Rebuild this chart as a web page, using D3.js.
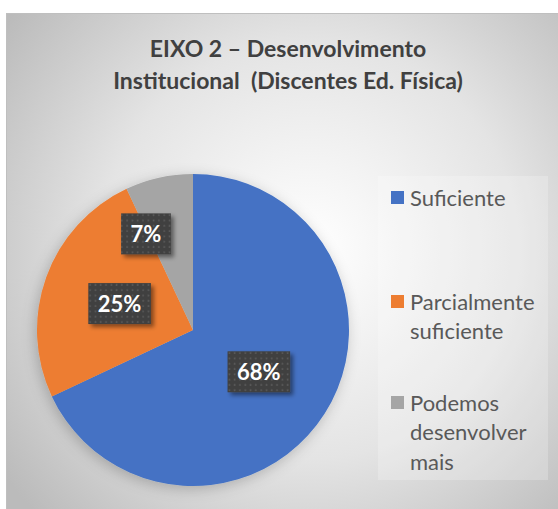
<!DOCTYPE html>
<meta charset="utf-8">
<style>
    body { margin: 0; background: #fff; }
    svg { display: block; }
    text { font-family: Lato, "Open Sans", sans-serif; white-space: pre; }
</style>
<body>
<script src="https://cdn.jsdelivr.net/npm/d3@7"></script>
<script>
// data
var categories = ["Suficiente", "Parcialmente suficiente", "Podemos desenvolver mais"];
var legendLines = [["Suficiente"], ["Parcialmente", "suficiente"], ["Podemos", "desenvolver", "mais"]];
var percents = [68, 25, 7];
var colors = ["#4472c4", "#ed7d31", "#a5a5a5"];
var titleLines = ["EIXO 2 \u2013 Desenvolvimento", "Institucional  (Discentes Ed. F\u00edsica)"];

var width = 558, height = 509;

var svg = d3.select("body").append("svg")
    .attr("width", width)
    .attr("height", height);

var defs = svg.append("defs");

// background gradient of the chart area
var bg = defs.append("radialGradient")
    .attr("id", "bg")
    .attr("gradientUnits", "userSpaceOnUse")
    .attr("cx", 310).attr("cy", 250).attr("r", 380);
bg.append("stop").attr("offset", "0%").attr("stop-color", "#ffffff");
bg.append("stop").attr("offset", "55%").attr("stop-color", "#e4e4e4");
bg.append("stop").attr("offset", "100%").attr("stop-color", "#bbbbbb");

// dotted fill of the data labels
var pat = defs.append("pattern")
    .attr("id", "dots")
    .attr("patternUnits", "userSpaceOnUse")
    .attr("width", 5.3).attr("height", 5.3);
pat.append("rect").attr("width", 5.3).attr("height", 5.3).attr("fill", "#3f3f3f");
pat.append("rect").attr("x", 1.5).attr("y", 1.5).attr("width", 1.6).attr("height", 2).attr("fill", "#5a5a5a");

// soft shadow round the pie
var pieShadow = defs.append("filter").attr("id", "pieShadow")
    .attr("x", "-20%").attr("y", "-20%").attr("width", "140%").attr("height", "140%");
pieShadow.append("feDropShadow")
    .attr("dx", -2).attr("dy", 3).attr("stdDeviation", 7)
    .attr("flood-color", "#000").attr("flood-opacity", 0.22);

var boxShadow = defs.append("filter").attr("id", "boxShadow")
    .attr("x", "-30%").attr("y", "-30%").attr("width", "160%").attr("height", "160%");
boxShadow.append("feDropShadow")
    .attr("dx", 3).attr("dy", 3).attr("stdDeviation", 2)
    .attr("flood-color", "#000").attr("flood-opacity", 0.45);

// chart area
svg.append("rect")
    .attr("x", 6.5).attr("y", 13.5)
    .attr("width", width).attr("height", height)
    .attr("fill", "url(#bg)")
    .attr("stroke", "#bfbfbf");

// title
var title = svg.append("text")
    .attr("text-anchor", "middle")
    .attr("font-weight", "bold")
    .attr("font-size", 23)
    .attr("fill", "#404040");
title.selectAll("tspan")
    .data(titleLines)
    .join("tspan")
    .attr("x", 288)
    .attr("y", function(d, i) { return 57 + i * 32; })
    .text(function(d) { return d; });

// pie
var cx = 193, cy = 330, radius = 156;
var pie = d3.pie().sort(null).value(function(d) { return d; });
var arcs = pie(percents);
var arc = d3.arc().innerRadius(0).outerRadius(radius);
var labelArc = d3.arc().innerRadius(radius * 0.5).outerRadius(radius * 0.5);

var g = svg.append("g").attr("transform", "translate(" + cx + "," + cy + ")");

g.append("g").attr("filter", "url(#pieShadow)")
    .selectAll("path")
    .data(arcs)
    .join("path")
    .attr("d", arc)
    .attr("fill", function(d, i) { return colors[i]; });

// small slice label is pulled out by hand, like in the original
var nudge = [[0, 0], [0, 0], [-30, -20]];

var labels = g.selectAll("g.label")
    .data(arcs)
    .join("g")
    .attr("class", "label")
    .attr("transform", function(d, i) {
        var c = labelArc.centroid(d);
        return "translate(" + (c[0] + nudge[i][0]) + "," + (c[1] + nudge[i][1]) + ")";
    });

labels.each(function(d) {
    var lg = d3.select(this);
    var t = lg.append("text")
        .attr("text-anchor", "middle")
        .attr("dy", "0.36em")
        .attr("font-weight", "bold")
        .attr("font-size", 22)
        .attr("fill", "#fff")
        .text(d.data + "%");
    var w = t.node().getComputedTextLength() + 19;
    lg.insert("rect", "text")
        .attr("x", -w / 2).attr("y", -20.5)
        .attr("width", w).attr("height", 41)
        .attr("fill", "url(#dots)")
        .attr("filter", "url(#boxShadow)");
});

// legend
var legend = svg.append("g");
legend.append("rect")
    .attr("x", 378).attr("y", 176)
    .attr("width", 170).attr("height", 304)
    .attr("fill", "#fff").attr("fill-opacity", 0.22);

var entryY = [198, 302, 403];
var item = legend.selectAll("g.item")
    .data(categories)
    .join("g")
    .attr("class", "item")
    .attr("transform", function(d, i) { return "translate(391," + entryY[i] + ")"; });

item.append("rect")
    .attr("y", -7).attr("width", 13).attr("height", 13)
    .attr("fill", function(d, i) { return colors[i]; });

item.append("text")
    .attr("font-size", 22)
    .attr("fill", "#595959")
    .selectAll("tspan")
    .data(function(d, i) { return legendLines[i]; })
    .join("tspan")
    .attr("x", 19)
    .attr("y", function(d, j) { return j * 29.5; })
    .attr("dy", "0.35em")
    .text(function(d) { return d; });
</script>
</body>
